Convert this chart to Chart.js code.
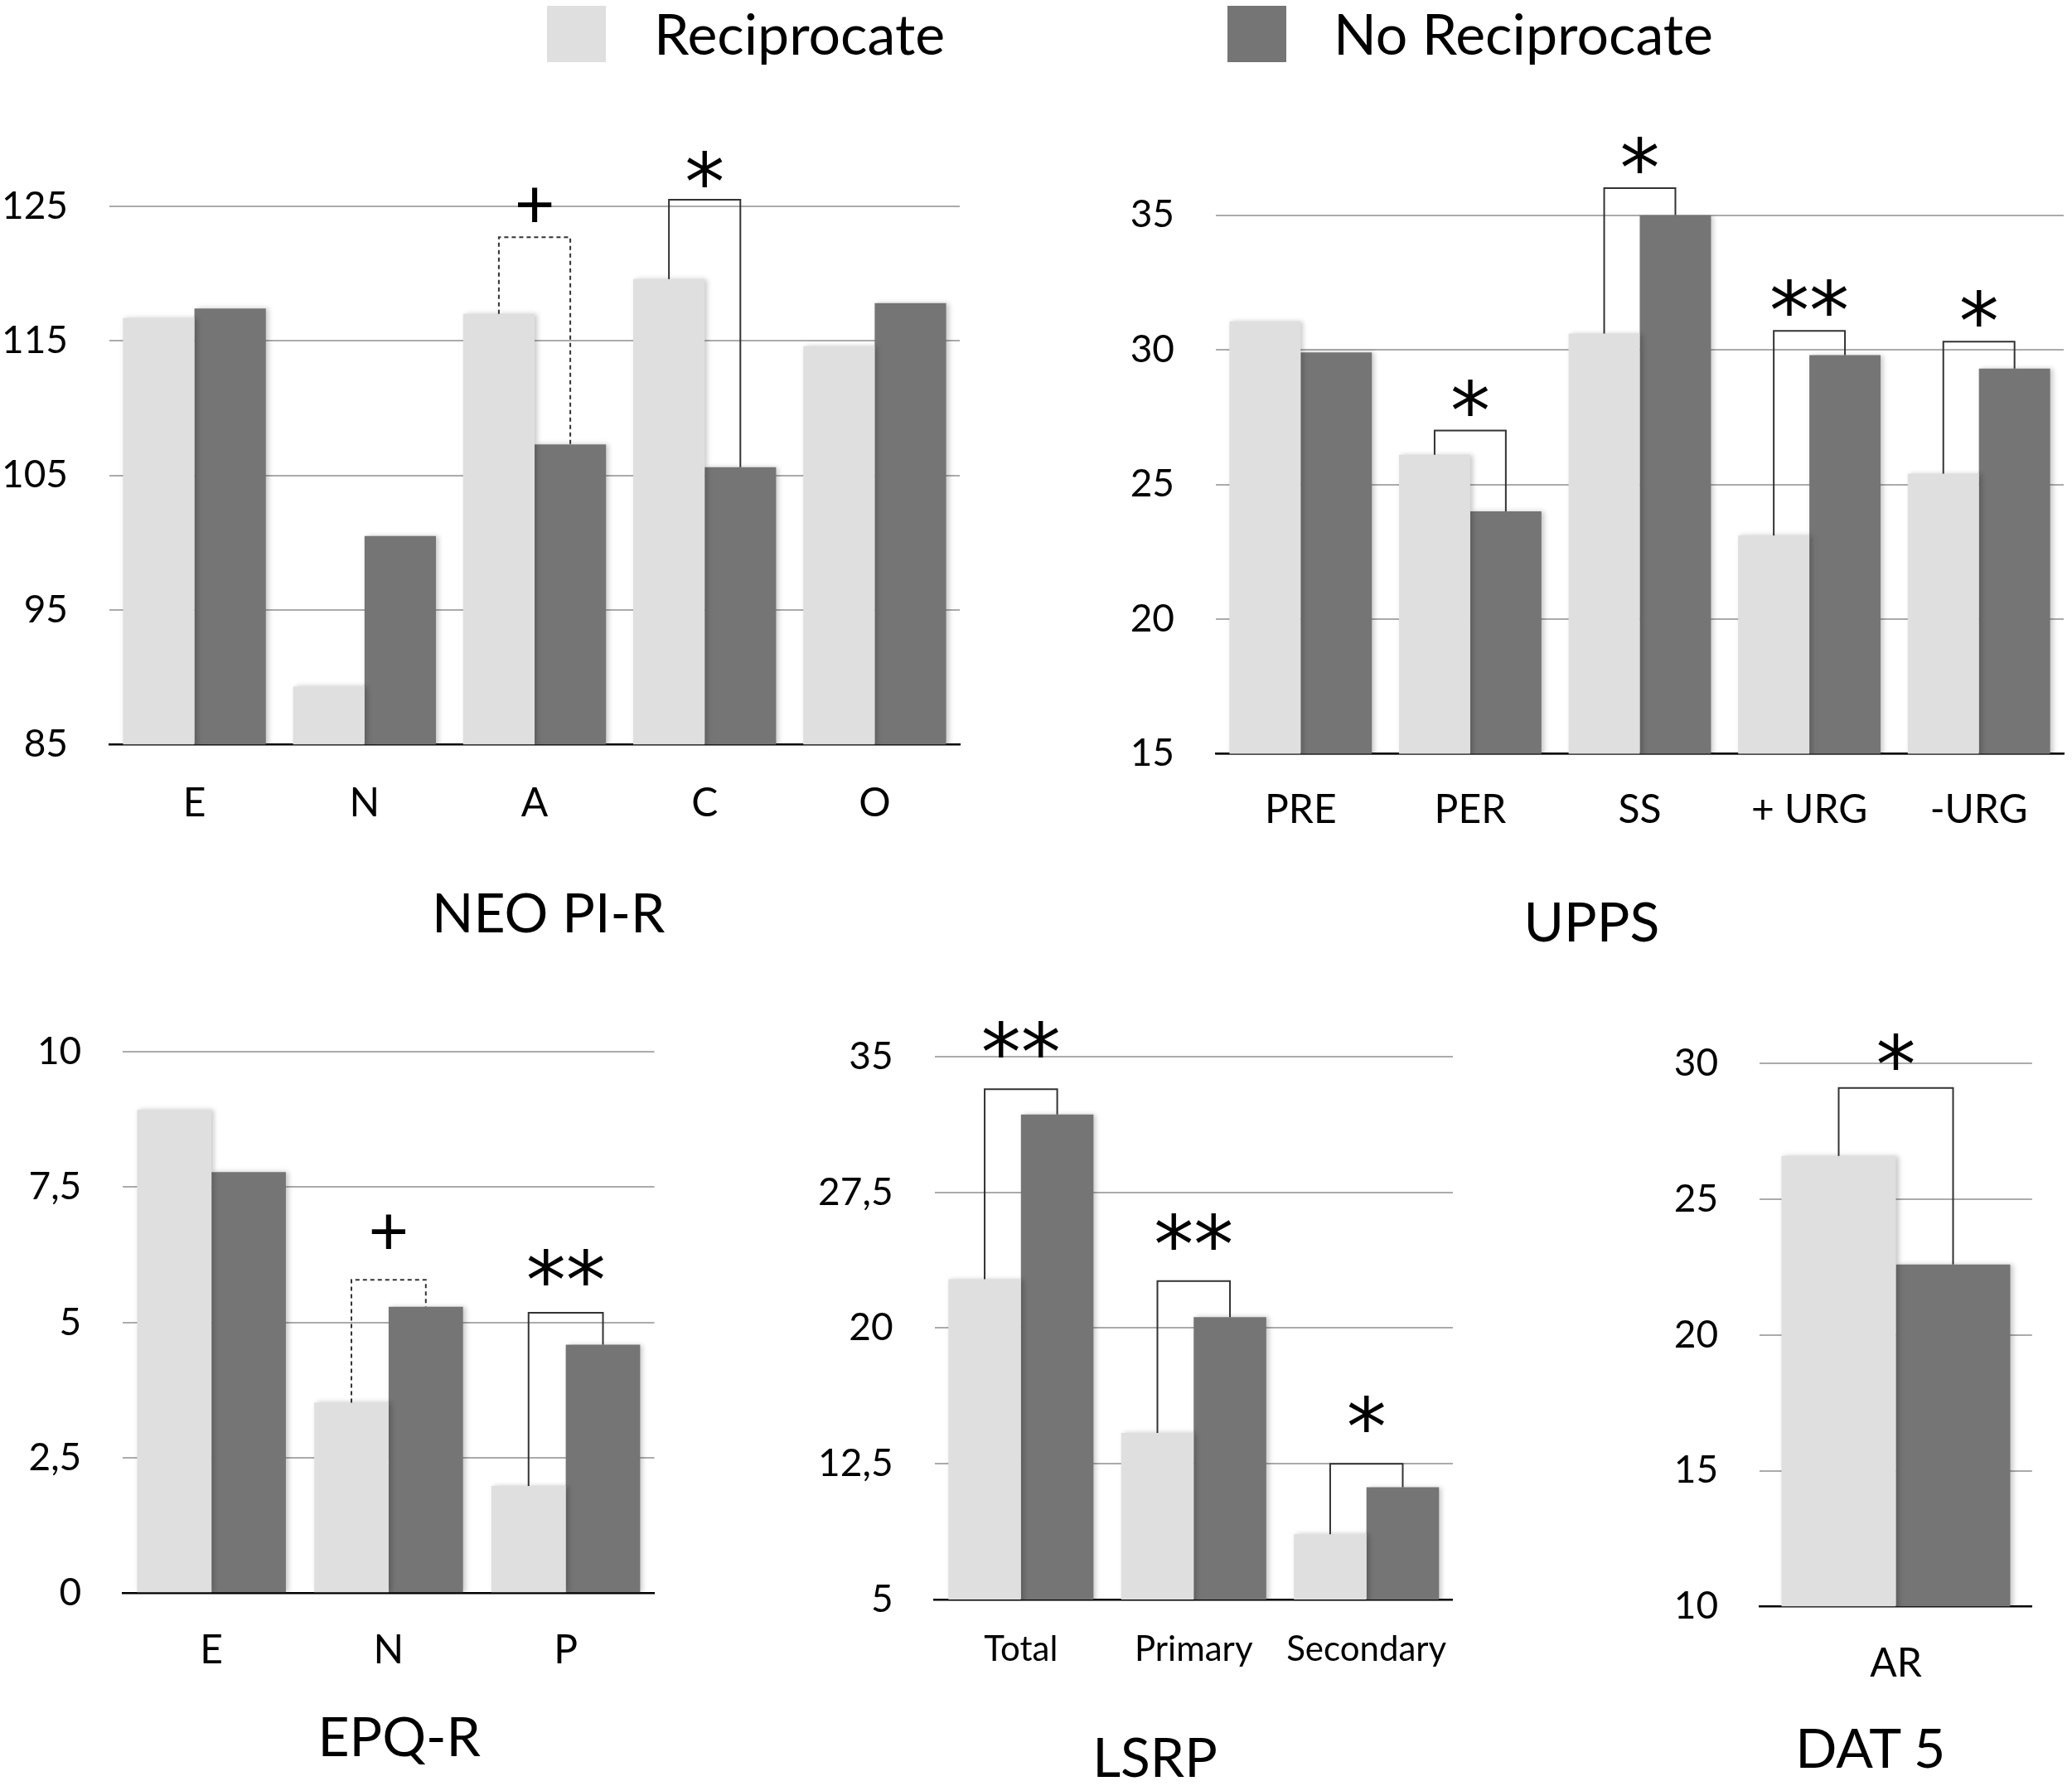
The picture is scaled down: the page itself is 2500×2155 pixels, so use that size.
<!DOCTYPE html>
<html lang="en">
<head>
  <meta charset="UTF-8" />
  <title>Reciprocate vs No Reciprocate</title>
  <script src="https://cdn.jsdelivr.net/npm/chart.js"></script>
  <style>
    html, body { margin: 0; padding: 0; background: #fff; overflow: hidden; }
    body { width: 2500px; height: 2155px; position: relative; font-family: Lato, sans-serif; }
    canvas { position: absolute; }
    .legend-box { position: absolute; top: 7px; width: 71px; height: 68px; }
    .legend-text { position: absolute; top: 6px; font-size: 68px; line-height: 68px; color: #000; white-space: nowrap; }
    .panel-title { position: absolute; font-size: 66px; line-height: 1; color: #000; white-space: nowrap; transform: translate(-50%, -50%); }
  </style>
</head>
<body>
  <div id="legend"></div>
  <canvas id="neoChart"></canvas>
  <canvas id="uppsChart"></canvas>
  <canvas id="epqChart"></canvas>
  <canvas id="lsrpChart"></canvas>
  <canvas id="datChart"></canvas>

  <script>
    const seriesNames = ['Reciprocate', 'No Reciprocate'];
    const seriesColors = ['#dfdfdf', '#757575'];

    // NEO PI-R
    const neoLabels = ['E', 'N', 'A', 'C', 'O'];
    const neoRecip = [116.7, 89.3, 117.0, 119.6, 114.6];
    const neoNoRecip = [117.4, 100.5, 107.3, 105.6, 117.8];
    const neoTicks = ['85', '95', '105', '115', '125'];
    const neoSig = ['', '', '+', '*', ''];
    const neoBracket = [null, null, 122.7, 125.5, null];

    // UPPS
    const uppsLabels = ['PRE', 'PER', 'SS', '+ URG', '-URG'];
    const uppsRecip = [31.05, 26.1, 30.6, 23.1, 25.4];
    const uppsNoRecip = [29.9, 24.0, 35.0, 29.8, 29.3];
    const uppsTicks = ['15', '20', '25', '30', '35'];
    const uppsSig = ['', '*', '*', '**', '*'];
    const uppsBracket = [null, 27.0, 36.0, 30.7, 30.3];

    // EPQ-R
    const epqLabels = ['E', 'N', 'P'];
    const epqRecip = [8.93, 3.52, 1.98];
    const epqNoRecip = [7.78, 5.29, 4.59];
    const epqTicks = ['0', '2,5', '5', '7,5', '10'];
    const epqSig = ['', '+', '**'];
    const epqBracket = [null, 5.79, 5.18];

    // LSRP
    const lsrpLabels = ['Total', 'Primary', 'Secondary'];
    const lsrpRecip = [22.7, 14.2, 8.6];
    const lsrpNoRecip = [31.8, 20.6, 11.2];
    const lsrpTicks = ['5', '12,5', '20', '27,5', '35'];
    const lsrpSig = ['**', '**', '*'];
    const lsrpBracket = [33.2, 22.6, 12.5];

    // DAT 5
    const datLabels = ['AR'];
    const datRecip = [26.6];
    const datNoRecip = [22.6];
    const datTicks = ['10', '15', '20', '25', '30'];
    const datSig = ['*'];
    const datBracket = [29.1];

    Chart.defaults.font.family = 'Lato';
    Chart.defaults.color = '#000';

    // legend across the top
    const legend = document.getElementById('legend');
    [[660, 789], [1481, 1609]].forEach(([boxX, textX], i) => {
      const box = document.createElement('div');
      box.className = 'legend-box';
      box.style.left = boxX + 'px';
      box.style.background = seriesColors[i];
      legend.appendChild(box);
      const txt = document.createElement('div');
      txt.className = 'legend-text';
      txt.style.left = textX + 'px';
      txt.textContent = seriesNames[i];
      legend.appendChild(txt);
    });

    // soft shadow on the right of each bar
    const shadowPlugin = {
      id: 'barShadow',
      beforeDatasetsDraw(chart) {
        const ctx = chart.ctx;
        ctx.save();
        ctx.shadowColor = 'rgba(0,0,0,0.22)';
        ctx.shadowBlur = 6;
        ctx.shadowOffsetX = 3;
      },
      afterDatasetsDraw(chart) {
        chart.ctx.restore();
      }
    };

    // significance brackets with + / * marks
    function sigPlugin(sig, tops, offset) {
      return {
        id: 'sig',
        afterDraw(chart) {
          const ctx = chart.ctx;
          const y = chart.scales.y;
          const a = chart.getDatasetMeta(0).data;
          const b = chart.getDatasetMeta(1).data;
          sig.forEach((lab, i) => {
            if (!lab) return;
            const top = y.getPixelForValue(tops[i]);
            const dashed = lab === '+';
            ctx.save();
            ctx.strokeStyle = '#333';
            ctx.lineWidth = 2;
            if (dashed) ctx.setLineDash([5, 4]);
            ctx.beginPath();
            ctx.moveTo(a[i].x, a[i].y);
            ctx.lineTo(a[i].x, top);
            ctx.lineTo(b[i].x, top);
            ctx.lineTo(b[i].x, b[i].y);
            ctx.stroke();
            ctx.setLineDash([]);
            const size = dashed ? 84 : 96;
            ctx.font = size + 'px ' + (dashed ? 'Lato' : '"DejaVu Sans"');
            ctx.fillStyle = '#000';
            ctx.textAlign = 'center';
            ctx.textBaseline = 'alphabetic';
            const cy = top - offset;
            ctx.fillText(lab, (a[i].x + b[i].x) / 2, cy + size * (dashed ? 0.30 : 0.52));
            ctx.restore();
          });
        }
      };
    }

    function buildChart(id, title, labels, recip, noRecip, ticks, sig, brackets, box) {
      const canvas = document.getElementById(id);
      const tickVals = ticks.map(t => parseFloat(t.replace(',', '.')));
      const xFont = box.xFont || 48;
      const xHeight = box.labelY + xFont * 0.6 + 6 - box.b;
      const width = Math.round(box.r + 12 - box.left);
      const height = Math.round(box.b + xHeight - box.top);

      canvas.width = width;
      canvas.height = height;
      canvas.style.left = box.left + 'px';
      canvas.style.top = box.top + 'px';
      canvas.style.width = width + 'px';
      canvas.style.height = height + 'px';

      const t = document.createElement('div');
      t.className = 'panel-title';
      t.style.left = box.titleX + 'px';
      t.style.top = box.titleY + 'px';
      t.textContent = title;
      document.body.appendChild(t);

      return new Chart(canvas.getContext('2d'), {
        type: 'bar',
        data: {
          labels: labels,
          datasets: [
            { label: seriesNames[0], data: recip, backgroundColor: seriesColors[0] },
            { label: seriesNames[1], data: noRecip, backgroundColor: seriesColors[1] }
          ]
        },
        options: {
          responsive: false,
          animation: false,
          devicePixelRatio: 1,
          datasets: { bar: { categoryPercentage: 0.84, barPercentage: 1.0, borderWidth: 0 } },
          layout: {
            padding: { top: box.t - box.top, right: width - (box.r - box.left), left: 0, bottom: 0 }
          },
          plugins: {
            legend: { display: false },
            tooltip: { enabled: false },
            title: { display: false }
          },
          scales: {
            x: {
              grid: { display: false },
              border: { display: true, color: '#000', width: 2.5 },
              ticks: {
                font: { size: xFont },
                padding: box.labelY - box.b - xFont * 0.6,
                maxRotation: 0,
                autoSkip: false
              },
              afterFit(scale) { scale.height = xHeight; }
            },
            y: {
              min: tickVals[0],
              max: tickVals[tickVals.length - 1],
              grid: { color: '#ababab', lineWidth: 2, drawTicks: false },
              border: { display: false },
              ticks: {
                stepSize: tickVals[1] - tickVals[0],
                font: { size: 46 },
                padding: 50,
                callback: (v, i) => ticks[i]
              },
              afterFit(scale) { scale.width = box.l - box.left; }
            }
          }
        },
        plugins: [shadowPlugin, sigPlugin(sig, brackets, box.sigOffset)]
      });
    }

    buildChart('neoChart', 'NEO PI-R', neoLabels, neoRecip, neoNoRecip, neoTicks, neoSig, neoBracket,
      { left: 0, top: 150, l: 132, r: 1158, t: 249, b: 898, labelY: 961, titleX: 661.7, titleY: 1100, sigOffset: 37 });

    buildChart('uppsChart', 'UPPS', uppsLabels, uppsRecip, uppsNoRecip, uppsTicks, uppsSig, uppsBracket,
      { left: 1340, top: 150, l: 1467, r: 2490, t: 259.6, b: 909.9, labelY: 969.5, titleX: 1920.4, titleY: 1111, sigOffset: 40 });

    buildChart('epqChart', 'EPQ-R', epqLabels, epqRecip, epqNoRecip, epqTicks, epqSig, epqBracket,
      { left: 0, top: 1170, l: 148.3, r: 789.5, t: 1269.2, b: 1922.4, labelY: 1983.3, titleX: 481.7, titleY: 2093.6, sigOffset: 55 });

    buildChart('lsrpChart', 'LSRP', lsrpLabels, lsrpRecip, lsrpNoRecip, lsrpTicks, lsrpSig, lsrpBracket,
      { left: 980, top: 1170, l: 1127.6, r: 1762.8, t: 1275, b: 1930.1, labelY: 1983, titleX: 1393.5, titleY: 2119, xFont: 42, sigOffset: 60 });

    buildChart('datChart', 'DAT 5', datLabels, datRecip, datNoRecip, datTicks, datSig, datBracket,
      { left: 2000, top: 1170, l: 2123.2, r: 2451.8, t: 1283.3, b: 1938.5, labelY: 1999.4, titleX: 2256.8, titleY: 2108.3, sigOffset: 44 });
  </script>
</body>
</html>
